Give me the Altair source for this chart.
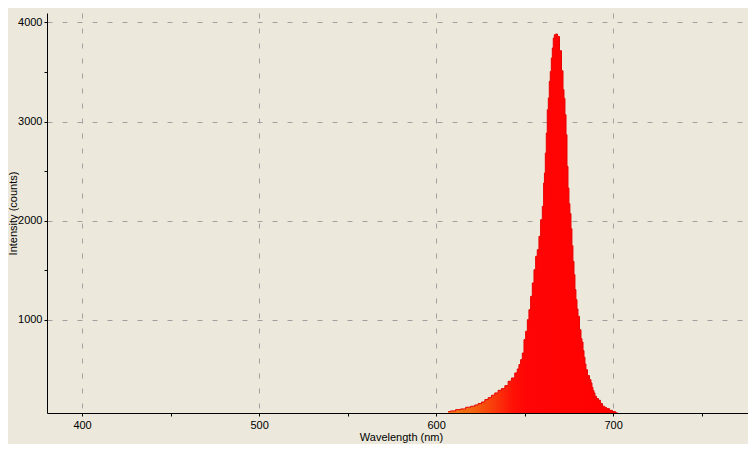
import altair as alt
import pandas as pd

wavelength = [606.8, 609.6, 612.4, 615.3, 618.1, 620.9, 622.8, 624.7, 626.6, 628.5,
              630.3, 632.2, 634.1, 636.0, 637.9, 639.8, 641.6, 643.5, 645.4, 646.3,
              647.3, 648.2, 649.2, 650.1, 651.1, 652.0, 652.9, 653.9, 654.8, 655.8,
              656.7, 657.6, 658.6, 659.5, 660.5, 661.0, 661.4, 662.0, 662.5, 663.1,
              663.7, 664.2, 664.8, 665.4, 665.9, 666.5, 667.1, 668.0,
              669.1, 670.3, 671.4, 672.0, 672.5, 673.1, 673.7, 674.2, 674.8, 675.3,
              675.9, 676.5, 677.0, 677.6, 678.2, 678.7, 679.3, 679.9, 680.4, 681.6,
              682.1, 682.7, 683.3, 683.8, 684.4, 684.9, 686.1, 687.2, 687.8, 688.3,
              688.9, 689.5, 690.0, 691.2, 692.3, 693.4, 694.6, 695.7, 696.8, 699.1,
              700.2, 702.5]
intensity = [76, 83, 96, 103, 120, 130, 143, 157, 173, 197,
             217, 241, 264, 291, 308, 338, 382, 415, 466, 506,
             550, 600, 667, 802, 886, 1003, 1104, 1238, 1373, 1507,
             1642, 1709, 1843, 2011, 2146, 2381, 2482, 2683, 2885, 3120,
             3238, 3406, 3506, 3641, 3742, 3842, 3876, 3883,
             3859, 3715, 3513, 3322, 3234, 3070, 2868, 2549, 2330, 2172,
             2072, 1920, 1749, 1591, 1457, 1306, 1205, 1111, 1037, 902,
             812, 778, 691, 624, 556, 499, 439, 398, 365, 321,
             288, 264, 231, 207, 190, 157, 130, 119, 106, 89,
             76, 64]

x_ticks = [400, 450, 500, 550, 600, 650, 700, 750]
y_ticks = [1000, 1500, 2000, 2500, 3000, 3500, 4000]

df = pd.DataFrame({"wavelength": wavelength, "intensity": intensity})

FONT = "Liberation Sans"
BG = "#ECE9DC"

x_enc = alt.X(
    "wavelength:Q",
    scale=alt.Scale(domain=[380.2, 776.2], nice=False, zero=False),
    axis=alt.Axis(
        values=x_ticks,
        format="d",
        labelExpr="datum.value % 100 === 0 ? datum.label : ''",
        title="Wavelength (nm)",
        titleX=354,
        titleY=27,
        titleAlign="center",
        titleBaseline="alphabetic",
        gridOpacity={"condition": {"test": "datum.value % 100 === 0", "value": 1}, "value": 0},
    ),
)
y_enc = alt.Y(
    "intensity:Q",
    scale=alt.Scale(domain=[62, 4095], nice=False, zero=False),
    axis=alt.Axis(
        values=y_ticks,
        format="d",
        labelExpr="datum.value % 1000 === 0 ? datum.label : ''",
        title="Intensity (counts)",
        titleX=-31,
        titleY=200,
        titleAngle=-90,
        titleAlign="center",
        titleBaseline="alphabetic",
        gridOpacity={"condition": {"test": "datum.value % 1000 === 0", "value": 1}, "value": 0},
    ),
)

fill = alt.Gradient(
    gradient="linear",
    stops=[
        alt.GradientStop(color="#EC7C1A", offset=0),
        alt.GradientStop(color="#F2660F", offset=0.14),
        alt.GradientStop(color="#F93E0B", offset=0.26),
        alt.GradientStop(color="#FE1206", offset=0.38),
        alt.GradientStop(color="#FF0505", offset=0.46),
        alt.GradientStop(color="#FF0000", offset=1),
    ],
    x1=0, x2=1, y1=0, y2=0,
)

area = alt.Chart(df).mark_area(interpolate="step", fill=fill, clip=True).encode(x=x_enc, y=y_enc)
edge = alt.Chart(df).mark_line(interpolate="step", color="#E80000", strokeWidth=1, clip=True).encode(x=x_enc, y=y_enc)

chart = (
    alt.layer(area, edge)
    .properties(
        width=701,
        height=400,
        background=BG,
        autosize=alt.AutoSizeParams(type="none"),
        padding={"left": 39, "top": 5, "right": 0, "bottom": 31},
    )
    .configure_view(stroke=None, fill=BG)
    .configure_axis(
        domainColor="#000000",
        domainWidth=1,
        tickColor="#000000",
        tickSize=3,
        labelPadding=3,
        labelFont=FONT,
        labelFontSize=11,
        labelColor="#000000",
        titleFont=FONT,
        titleFontSize=11,
        titleFontWeight="normal",
        titleColor="#000000",
        gridColor="#A0A0A0",
        gridDash=[5, 10],
        gridWidth=1,
    )
    .configure_axisY(labelPadding=2)
)

chart.save("out.html", embed_options={"renderer": "svg", "actions": False})
